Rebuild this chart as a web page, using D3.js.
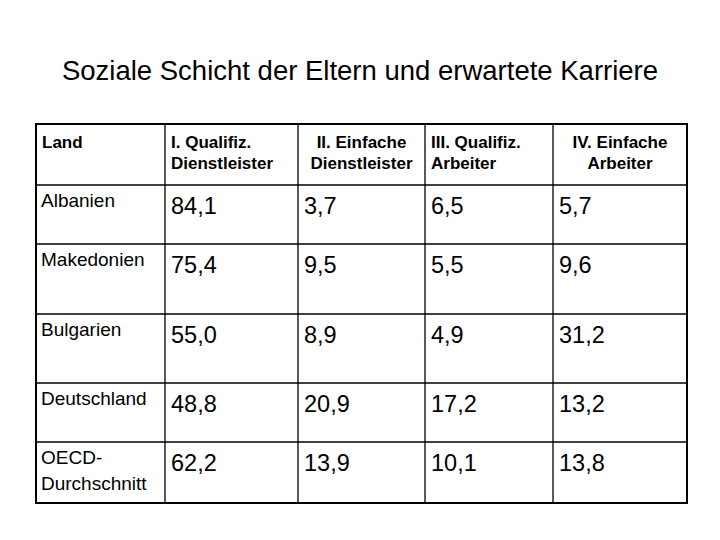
<!DOCTYPE html><html><head><meta charset="utf-8"><script src="https://cdn.jsdelivr.net/npm/d3@7"></script>
<style>body{margin:0;background:#fff}</style></head><body><svg id="c" width="720" height="540"></svg>
<script>
const title="Soziale Schicht der Eltern und erwartete Karriere";
const headers=[["Land"],["I. Qualifiz.","Dienstleister"],["II. Einfache","Dienstleister"],["III. Qualifiz.","Arbeiter"],["IV. Einfache","Arbeiter"]];
const headerAlign=["start","start","middle","start","middle"];
const countries=[["Albanien"],["Makedonien"],["Bulgarien"],["Deutschland"],["OECD-","Durchschnitt"]];
const values=[["84,1","3,7","6,5","5,7"],["75,4","9,5","5,5","9,6"],["55,0","8,9","4,9","31,2"],["48,8","20,9","17,2","13,2"],["62,2","13,9","10,1","13,8"]];
const colEdges=[36,165,298,425,553,687];
const rowEdges=[124,185,244,314,383,442,503];
const svg=d3.select("#c");const F="Liberation Sans, Arial, sans-serif";
svg.append("text").attr("x",360).attr("y",80).attr("text-anchor","middle").attr("font-family",F).attr("font-size",27.5).text(title);
const g=svg.append("g");
colEdges.slice(1,-1).forEach(x=>g.append("line").attr("x1",x).attr("x2",x).attr("y1",rowEdges[0]).attr("y2",rowEdges[6]).attr("stroke","#000").attr("stroke-width",1.3));
rowEdges.slice(1,-1).forEach(y=>g.append("line").attr("x1",colEdges[0]).attr("x2",colEdges[5]).attr("y1",y).attr("y2",y).attr("stroke","#000").attr("stroke-width",1.3));
g.append("rect").attr("x",colEdges[0]).attr("y",rowEdges[0]).attr("width",colEdges[5]-colEdges[0]).attr("height",rowEdges[6]-rowEdges[0]).attr("fill","none").attr("stroke","#000").attr("stroke-width",2);
headers.forEach((h,i)=>{const a=headerAlign[i];const x=a==="middle"?(colEdges[i]+colEdges[i+1])/2:colEdges[i]+6;
 h.forEach((l,j)=>g.append("text").attr("x",x).attr("y",rowEdges[0]+24+j*21).attr("text-anchor",a).attr("font-family",F).attr("font-weight","bold").attr("font-size",17).text(l));});
countries.forEach((c,r)=>{c.forEach((l,j)=>g.append("text").attr("x",colEdges[0]+5).attr("y",rowEdges[r+1]+22+j*26).attr("font-family",F).attr("font-size",19).text(l));
 values[r].forEach((v,k)=>g.append("text").attr("x",colEdges[k+1]+6).attr("y",rowEdges[r+1]+29).attr("font-family",F).attr("font-size",23.5).text(v));});
</script></body></html>
